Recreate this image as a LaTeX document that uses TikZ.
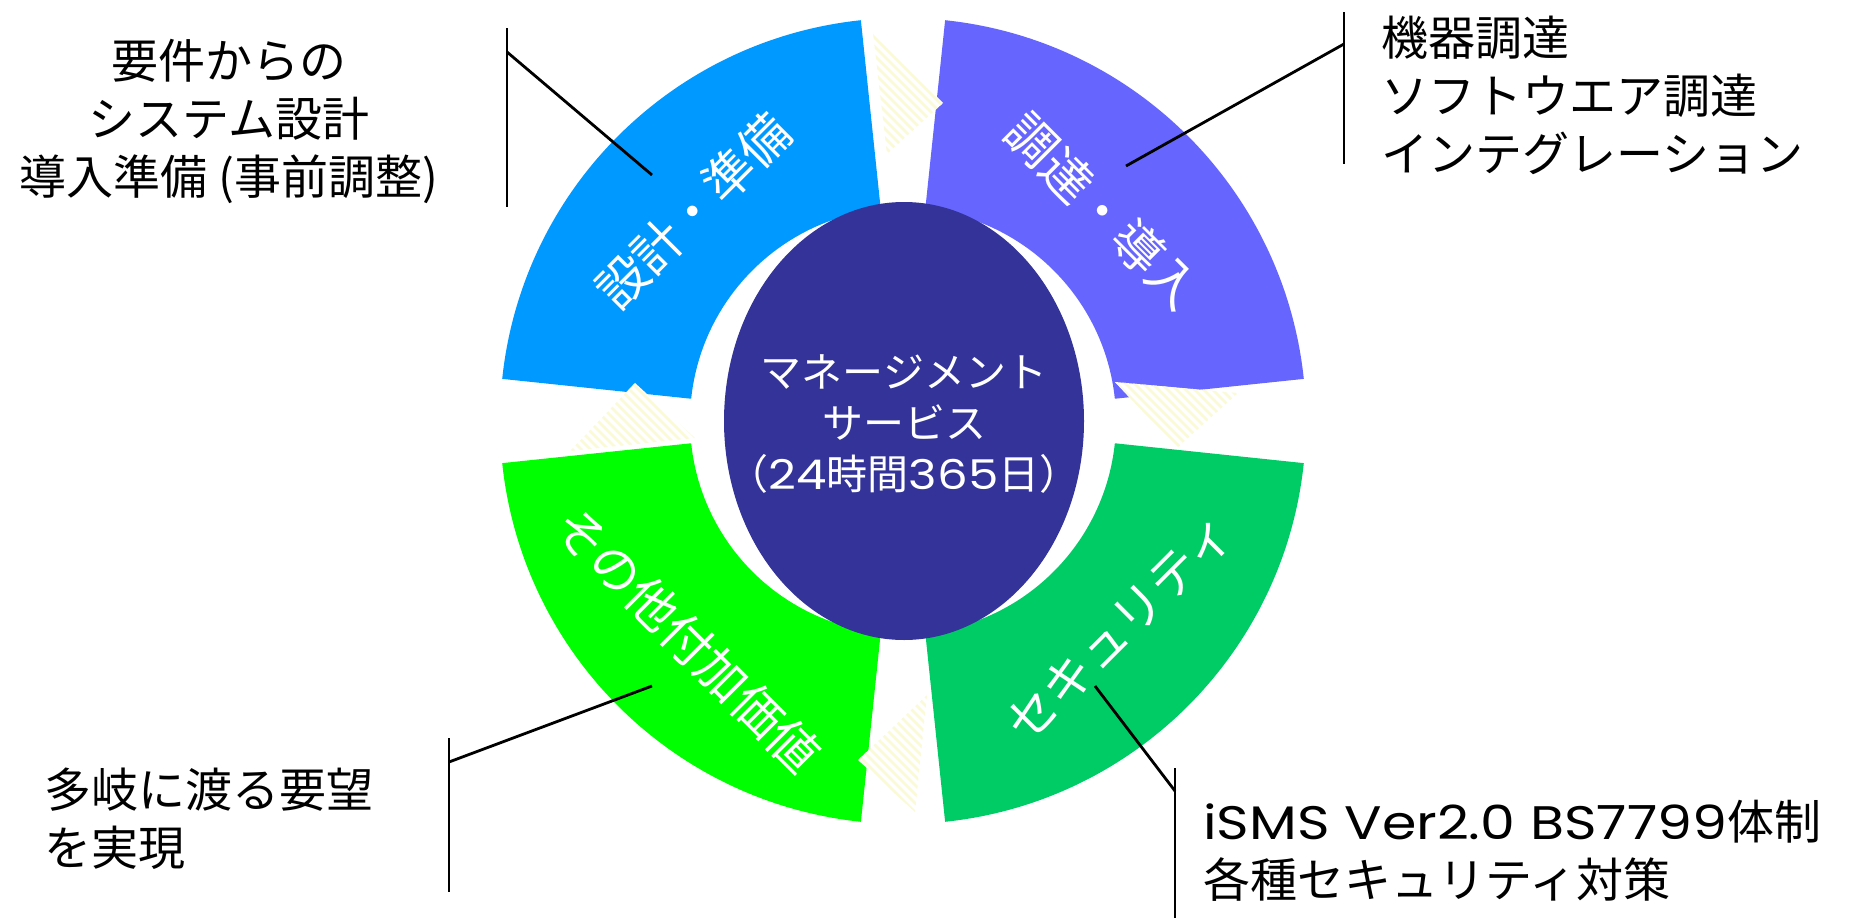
\documentclass[tikz,border=0pt]{standalone}
\usepackage{fontspec}
\setmainfont{Noto Sans CJK JP}
\newfontfamily\geofont[FakeStretch=1.18]{Poppins}
\usetikzlibrary{shapes.geometric,calc}
\definecolor{segBlue}{HTML}{0099FF}
\definecolor{segPurple}{HTML}{6666FF}
\definecolor{segGreen}{HTML}{00CC66}
\definecolor{segLime}{HTML}{00FF00}
\definecolor{coreNavy}{HTML}{333399}
\definecolor{hatchYellow}{RGB}{250,250,214}
\tikzset{
  seglabel/.style={text=white, inner sep=0pt, font=\fontsize{50}{56}\selectfont},
  callout/.style={text=black, inner sep=0pt, font=\fontsize{47}{58}\selectfont},
  leader/.style={draw=black, line width=2.8pt},
  hatchline/.style={draw=hatchYellow, line width=2.6pt},
}
\begin{document}
\begin{tikzpicture}[x=1pt,y=-1pt]
\useasboundingbox (0,0) rectangle (1850,918);
\coordinate (C) at (903,421);

% ring segments (angles measured clockwise on screen)
\foreach \a/\col in {186/segBlue,276/segPurple,6/segGreen,96/segLime}{
  \fill[\col] ($(C)+(\a:403)$) arc[start angle=\a, end angle={\a+78}, radius=403]
    -- ($(C)+({\a+78}:213)$) arc[start angle={\a+78}, end angle=\a, radius=213] -- cycle;
}

% hatched arrows
% top (pointing right)
\fill[white] (873,33) -- (943,103) -- (887,154) -- cycle;
\begin{scope}
  \clip (873,33) -- (943,103) -- (887,154) -- cycle;
  \foreach \d in {720,729,...,860} \draw[hatchline] (\d,0) -- (\d+200,200);
\end{scope}
% right (pointing down)
\fill[white] (1115,382) -- (1238,393) -- (1177,448) -- cycle;
\begin{scope}
  \clip (1115,382) -- (1238,393) -- (1177,448) -- cycle;
  \foreach \d in {715,724,...,860} \draw[hatchline] (\d+350,350) -- (\d+470,470);
\end{scope}
% bottom (pointing left)
\fill[white] (927,695) -- (858,760) -- (915,812) -- cycle;
\begin{scope}
  \clip (927,695) -- (858,760) -- (915,812) -- cycle;
  \foreach \d in {85,94,...,245} \draw[hatchline] (\d+680,680) -- (\d+830,830);
\end{scope}
% left (pointing up)
\fill[white] (635,383) -- (695,438) -- (570,451) -- cycle;
\begin{scope}
  \clip (635,383) -- (695,438) -- (570,451) -- cycle;
  \foreach \d in {105,114,...,270} \draw[hatchline] (\d+370,370) -- (\d+470,470);
\end{scope}

% centre
\node[ellipse, fill=coreNavy, minimum width=360pt, minimum height=438pt, inner sep=0pt] (core) at (904,421) {};
\node[text=white, align=center, inner sep=0pt, font=\fontsize{41}{51}\selectfont] (coreText) at (904,424)
      {マネージメント\\サービス\\（{\geofont 24}時間{\geofont 365}日）};

% segment labels
\node[seglabel, rotate=45]  (lblDesign)   at ($(C)+(225:297)$) {設計・準備};
\node[seglabel, rotate=-45] (lblProcure)  at ($(C)+(313.6:290)$) {調達・導入};
\node[seglabel, rotate=45]  (lblSecurity) at ($(C)+(43.6:300)$) {セキュリティ};
\node[seglabel, rotate=-45] (lblOther)    at ($(C)+(134.6:307)$) {その他付加価値};

% callout texts
\node[callout, align=center] (tlText) at (229,121) {要件からの\\システム設計\\導入準備 (事前調整)};
\node[callout, align=left, anchor=west] (trText) at (1381,95) {機器調達\\ソフトウエア調達\\インテグレーション};
\node[callout, align=left, anchor=west] (blText) at (44,819) {多岐に渡る要望\\を実現};
\node[callout, align=left, anchor=west] (brText) at (1203,851) {{\geofont iSMS Ver2.0 BS7799}体制\\各種セキュリティ対策};

% leaders
\coordinate (tlTop) at (507,28);  \coordinate (tlBot) at (507,207);
\coordinate (tlJoin) at (507,52); \coordinate (tlEnd) at (652,175);
\coordinate (trTop) at (1344,12); \coordinate (trBot) at (1344,164);
\coordinate (trJoin) at (1344,44); \coordinate (trEnd) at (1126,166);
\coordinate (blTop) at (449,738); \coordinate (blBot) at (449,892);
\coordinate (blJoin) at (449,762); \coordinate (blEnd) at (652,686);
\coordinate (brTop) at (1175,768); \coordinate (brBot) at (1175,918);
\coordinate (brJoin) at (1175,791); \coordinate (brEnd) at (1095,686);
\draw[leader] (tlTop) -- (tlBot); \draw[leader] (tlJoin) -- (tlEnd);
\draw[leader] (trTop) -- (trBot); \draw[leader] (trJoin) -- (trEnd);
\draw[leader] (blTop) -- (blBot); \draw[leader] (blJoin) -- (blEnd);
\draw[leader] (brTop) -- (brBot); \draw[leader] (brJoin) -- (brEnd);
\end{tikzpicture}
\end{document}
